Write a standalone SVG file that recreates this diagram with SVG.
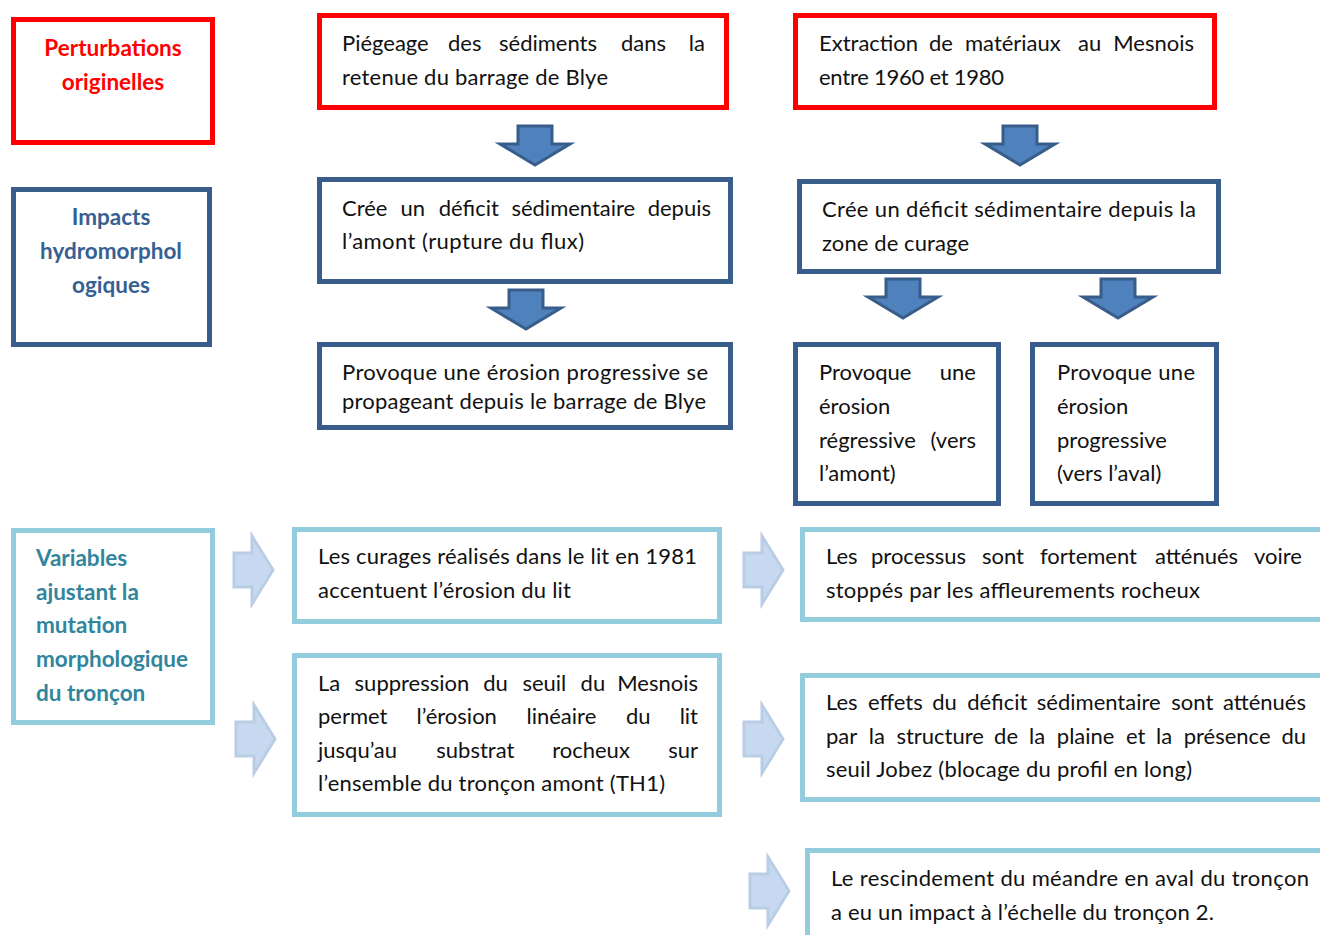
<svg xmlns="http://www.w3.org/2000/svg" xmlns:xlink="http://www.w3.org/1999/xlink" width="1320" height="935" viewBox="0 0 1320 935">
<style>
.bg{fill:#fff}
.red{fill:#fff;stroke:#FF0000;stroke-width:5}
.blue{fill:#fff;stroke:#385D8A;stroke-width:5}
.light{fill:#fff;stroke:#93CDDD;stroke-width:5}
.t{font-family:Lato,"Open Sans","Liberation Sans",sans-serif;font-size:22px;fill:#111}
.e{text-anchor:end}
.hr{font-family:Lato,"Open Sans","Liberation Sans",sans-serif;font-size:22.5px;font-weight:bold;fill:#FF0000;text-anchor:middle}
.hb{font-family:Lato,"Open Sans","Liberation Sans",sans-serif;font-size:22.5px;font-weight:bold;fill:#376092;text-anchor:middle}
.ht{font-family:Lato,"Open Sans","Liberation Sans",sans-serif;font-size:22.5px;font-weight:bold;fill:#31859C}
.da{fill:#4F81BD;stroke:#385D8A;stroke-width:3;stroke-linejoin:miter}
.la{fill:#C6D9F1;stroke:#B9CDE5;stroke-width:3}
</style>
<defs>
<path id="down" d="M-17,0 H17 V18 H35 L0,39 L-35,18 H-17 Z"/>
<path id="right" d="M0,-17 H18 V-34 L39,0 L18,34 V17 H0 Z"/>
</defs>
<rect class="bg" x="0" y="0" width="1320" height="935"/>

<g id="connectors">
<use xlink:href="#down" class="da" x="535" y="126"/>
<use xlink:href="#down" class="da" x="1020" y="126"/>
<use xlink:href="#down" class="da" x="526" y="290"/>
<use xlink:href="#down" class="da" x="903" y="279"/>
<use xlink:href="#down" class="da" x="1118" y="279"/>
<use xlink:href="#right" class="la" x="234" y="570"/>
<use xlink:href="#right" class="la" x="744" y="570"/>
<use xlink:href="#right" class="la" x="236" y="739"/>
<use xlink:href="#right" class="la" x="744" y="739"/>
<use xlink:href="#right" class="la" x="750" y="891"/>
</g>

<g id="n-perturbations">
<rect class="red" x="13.5" y="19.5" width="199" height="123"/>
<text class="hr" x="113" y="56">Perturbations</text>
<text class="hr" x="113" y="90">originelles</text>
</g>

<g id="n-piegeage">
<rect class="red" x="319.5" y="15.5" width="407" height="92"/>
<text class="t" y="51"><tspan x="342">Piégeage</tspan><tspan x="448">des</tspan><tspan x="499">sédiments</tspan><tspan x="621">dans</tspan></text>
<text class="t e" x="705" y="51">la</text>
<text class="t" x="342" y="85" textLength="266" lengthAdjust="spacing">retenue du barrage de Blye</text>
</g>

<g id="n-extraction">
<rect class="red" x="795.5" y="15.5" width="419" height="92"/>
<text class="t" y="51"><tspan x="819">Extraction</tspan><tspan x="929">de</tspan><tspan x="965">matériaux</tspan><tspan x="1078">au</tspan></text>
<text class="t e" x="1194" y="51">Mesnois</text>
<text class="t" x="819" y="85" textLength="185" lengthAdjust="spacing">entre 1960 et 1980</text>
</g>

<g id="n-impacts">
<rect class="blue" x="13.5" y="189.5" width="196" height="155"/>
<text class="hb" x="111" y="225">Impacts</text>
<text class="hb" x="111" y="259">hydromorphol</text>
<text class="hb" x="111" y="293">ogiques</text>
</g>

<g id="n-cree1">
<rect class="blue" x="319.5" y="179.5" width="411" height="102"/>
<text class="t" y="216"><tspan x="342">Crée</tspan><tspan x="400.6">un</tspan><tspan x="438.8">déficit</tspan><tspan x="511.4">sédimentaire</tspan></text>
<text class="t e" x="711" y="216">depuis</text>
<text class="t" x="342" y="249" textLength="242" lengthAdjust="spacing">l’amont (rupture du flux)</text>
</g>

<g id="n-cree2">
<rect class="blue" x="799.5" y="181.5" width="419" height="90"/>
<text class="t" x="822" y="217" textLength="374" lengthAdjust="spacing">Crée un déficit sédimentaire depuis la</text>
<text class="t" x="822" y="251" textLength="147" lengthAdjust="spacing">zone de curage</text>
</g>

<g id="n-provoque1">
<rect class="blue" x="319.5" y="344.5" width="411" height="83"/>
<text class="t" x="342" y="380" textLength="366" lengthAdjust="spacing">Provoque une érosion progressive se</text>
<text class="t" x="342" y="409" textLength="364" lengthAdjust="spacing">propageant depuis le barrage de Blye</text>
</g>

<g id="n-provoque2">
<rect class="blue" x="795.5" y="344.5" width="203" height="159"/>
<text class="t" x="819" y="380">Provoque</text>
<text class="t e" x="976" y="380">une</text>
<text class="t" x="819" y="414">érosion</text>
<text class="t" x="819" y="448">régressive</text>
<text class="t e" x="976" y="448">(vers</text>
<text class="t" x="819" y="481">l’amont)</text>
</g>

<g id="n-provoque3">
<rect class="blue" x="1032.5" y="344.5" width="184" height="159"/>
<text class="t" x="1057" y="380" textLength="138" lengthAdjust="spacing">Provoque une</text>
<text class="t" x="1057" y="414">érosion</text>
<text class="t" x="1057" y="448">progressive</text>
<text class="t" x="1057" y="481">(vers l’aval)</text>
</g>

<g id="n-variables">
<rect class="light" x="13.5" y="530.5" width="199" height="192"/>
<text class="ht" x="36" y="566">Variables</text>
<text class="ht" x="36" y="600">ajustant la</text>
<text class="ht" x="36" y="633">mutation</text>
<text class="ht" x="36" y="667">morphologique</text>
<text class="ht" x="36" y="701">du tronçon</text>
</g>

<g id="n-curages">
<rect class="light" x="294.5" y="529.5" width="425" height="92"/>
<text class="t" x="318" y="564" textLength="379" lengthAdjust="spacing">Les curages réalisés dans le lit en 1981</text>
<text class="t" x="318" y="598" textLength="253" lengthAdjust="spacing">accentuent l’érosion du lit</text>
</g>

<g id="n-processus">
<rect class="light" x="802.5" y="529.5" width="540" height="90"/>
<text class="t" y="564"><tspan x="826">Les</tspan><tspan x="871">processus</tspan><tspan x="982">sont</tspan><tspan x="1040">fortement</tspan><tspan x="1155">atténués</tspan></text>
<text class="t e" x="1302" y="564">voire</text>
<text class="t" x="826" y="598" textLength="374" lengthAdjust="spacing">stoppés par les affleurements rocheux</text>
</g>

<g id="n-suppression">
<rect class="light" x="294.5" y="655.5" width="425" height="159"/>
<text class="t" y="691"><tspan x="318">La</tspan><tspan x="354.6">suppression</tspan><tspan x="483.2">du</tspan><tspan x="522.4">seuil</tspan><tspan x="580.6">du</tspan></text>
<text class="t e" x="698" y="691">Mesnois</text>
<text class="t" y="724"><tspan x="318">permet</tspan><tspan x="416.5">l’érosion</tspan><tspan x="526.5">linéaire</tspan><tspan x="626">du</tspan></text>
<text class="t e" x="698" y="724">lit</text>
<text class="t" y="758"><tspan x="318">jusqu’au</tspan><tspan x="436.3">substrat</tspan><tspan x="552.2">rocheux</tspan></text>
<text class="t e" x="698" y="758">sur</text>
<text class="t" x="318" y="791" textLength="347" lengthAdjust="spacing">l’ensemble du tronçon amont (TH1)</text>
</g>

<g id="n-effets">
<rect class="light" x="802.5" y="675.5" width="540" height="124"/>
<text class="t" y="710"><tspan x="826">Les</tspan><tspan x="868">effets</tspan><tspan x="932.2">du</tspan><tspan x="967.3">déficit</tspan><tspan x="1036.8">sédimentaire</tspan><tspan x="1171.3">sont</tspan></text>
<text class="t e" x="1306" y="710">atténués</text>
<text class="t" y="744"><tspan x="826">par</tspan><tspan x="868.7">la</tspan><tspan x="896.4">structure</tspan><tspan x="994.1">de</tspan><tspan x="1029.1">la</tspan><tspan x="1056.8">plaine</tspan><tspan x="1125.9">et</tspan><tspan x="1156">la</tspan><tspan x="1183.7">présence</tspan></text>
<text class="t e" x="1306" y="744">du</text>
<text class="t" x="826" y="777" textLength="366" lengthAdjust="spacing">seuil Jobez (blocage du profil en long)</text>
</g>

<g id="n-rescindement">
<rect class="light" x="807.5" y="850.5" width="540" height="120"/>
<text class="t" x="831" y="886" textLength="478" lengthAdjust="spacing">Le rescindement du méandre en aval du tronçon</text>
<text class="t" x="831" y="920" textLength="383" lengthAdjust="spacing">a eu un impact à l’échelle du tronçon 2.</text>
</g>
</svg>
